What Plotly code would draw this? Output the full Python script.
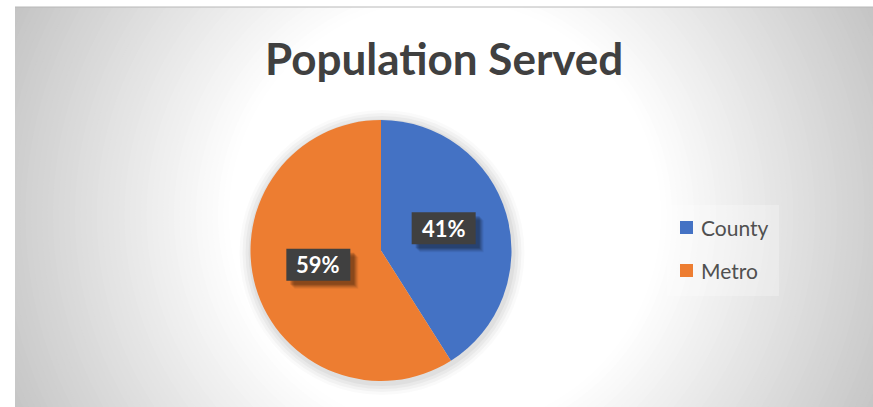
import math
import plotly.graph_objects as go

# ---- data ----
categories = ["County", "Metro"]
values = [41, 59]
slice_colors = ["#4472C4", "#ED7D31"]
title_text = "Population Served"

W, H = 873, 407
FONT = "Lato, Calibri, 'Open Sans', sans-serif"


def px(x):
    return x / W


def py(y):
    return 1 - y / H


# chart area and pie geometry (pixels)
area = (15, 7, 873, 407)
cx, cy, R = 381, 250.5, 130.5

shapes = []

# radial background: grey edges fading to a white centre
gcx, gcy = 445, 215
rmax = 480.0
inner = 0.45
steps = 48
edge_grey = 196
for i in range(steps + 1):
    t = 1.0 - (1.0 - inner) * i / steps
    r = rmax * t
    g = int(round(255 - (255 - edge_grey) * (t - inner) / (1 - inner)))
    shapes.append(dict(type="circle", xref="paper", yref="paper", layer="below",
                       x0=px(gcx - r), x1=px(gcx + r), y0=py(gcy + r), y1=py(gcy - r),
                       fillcolor=f"rgb({g},{g},{g})", line=dict(width=0)))

# white margin outside the chart area
shapes.append(dict(type="rect", xref="paper", yref="paper", layer="below",
                   x0=0, x1=px(area[0]), y0=0, y1=1, fillcolor="white", line=dict(width=0)))
shapes.append(dict(type="rect", xref="paper", yref="paper", layer="below",
                   x0=0, x1=1, y0=py(area[1]), y1=1, fillcolor="white", line=dict(width=0)))
shapes.append(dict(type="line", xref="paper", yref="paper", layer="below",
                   x0=px(area[0]), x1=1, y0=py(area[1]), y1=py(area[1]),
                   line=dict(color="#b8b8b8", width=1)))

# soft shadow around the pie
for d, a in [(12, 0.02), (9, 0.03), (6, 0.035), (3, 0.04)]:
    r = R + d
    shapes.append(dict(type="circle", xref="paper", yref="paper", layer="below",
                       x0=px(cx - r + 1), x1=px(cx + r + 1), y0=py(cy + r + 2), y1=py(cy - r + 2),
                       fillcolor=f"rgba(0,0,0,{a})", line=dict(width=0)))

# legend panel
shapes.append(dict(type="rect", xref="paper", yref="paper", layer="below",
                   x0=px(667), x1=px(779), y0=py(296), y1=py(205),
                   fillcolor="rgba(255,255,255,0.25)", line=dict(width=0)))

annotations = []

# percentage labels with dark boxes, placed at the middle of each slice
total = sum(values)
start = 0.0
box_w, box_h = 64, 32
for v in values:
    frac = v / total
    mid = (start + frac / 2) * 2 * math.pi
    start += frac
    lx = cx + 0.5 * R * math.sin(mid)
    ly = cy - 0.5 * R * math.cos(mid) - 4
    # blurred drop shadow
    for o, a in [(8, 0.06), (7, 0.08), (6, 0.1), (5, 0.12), (4, 0.14)]:
        shapes.append(dict(type="rect", xref="paper", yref="paper",
                           x0=px(lx - box_w / 2 + o), x1=px(lx + box_w / 2 + o),
                           y0=py(ly + box_h / 2 + o), y1=py(ly - box_h / 2 + o),
                           fillcolor=f"rgba(0,0,0,{a})", line=dict(width=0)))
    shapes.append(dict(type="rect", xref="paper", yref="paper",
                       x0=px(lx - box_w / 2), x1=px(lx + box_w / 2),
                       y0=py(ly + box_h / 2), y1=py(ly - box_h / 2),
                       fillcolor="#404040", line=dict(width=0)))
    annotations.append(dict(xref="paper", yref="paper", x=px(lx), y=py(ly),
                            text=f"<b>{round(100 * frac)}%</b>", showarrow=False,
                            font=dict(family=FONT, size=22, color="white"),
                            xanchor="center", yanchor="middle"))

# legend entries
leg_x, leg_y0, leg_gap, sq = 680, 227.5, 43, 13
for i, (name, col) in enumerate(zip(categories, slice_colors)):
    yy = leg_y0 + i * leg_gap
    shapes.append(dict(type="rect", xref="paper", yref="paper",
                       x0=px(leg_x), x1=px(leg_x + sq), y0=py(yy + sq / 2), y1=py(yy - sq / 2),
                       fillcolor=col, line=dict(width=0)))
    annotations.append(dict(xref="paper", yref="paper", x=px(leg_x + sq + 6), y=py(yy),
                            text=name, showarrow=False, xanchor="left", yanchor="middle",
                            font=dict(family=FONT, size=21, color="#505050")))

# title
annotations.append(dict(xref="paper", yref="paper", x=px(444), y=py(58),
                        text=f"<b>{title_text}</b>", showarrow=False,
                        xanchor="center", yanchor="middle",
                        font=dict(family=FONT, size=44, color="#404040")))

fig = go.Figure(go.Pie(
    labels=categories,
    values=values,
    marker=dict(colors=slice_colors, line=dict(width=0)),
    sort=False,
    direction="clockwise",
    rotation=0,
    textinfo="none",
    hoverinfo="label+percent",
    showlegend=False,
    domain=dict(x=[px(cx - R), px(cx + R)], y=[py(cy + R), py(cy - R)]),
))

fig.update_layout(
    width=W, height=H,
    margin=dict(l=0, r=0, t=0, b=0),
    paper_bgcolor=f"rgb({edge_grey},{edge_grey},{edge_grey})",
    plot_bgcolor="rgba(0,0,0,0)",
    shapes=shapes,
    annotations=annotations,
    showlegend=False,
)

fig.write_html("out.html")
